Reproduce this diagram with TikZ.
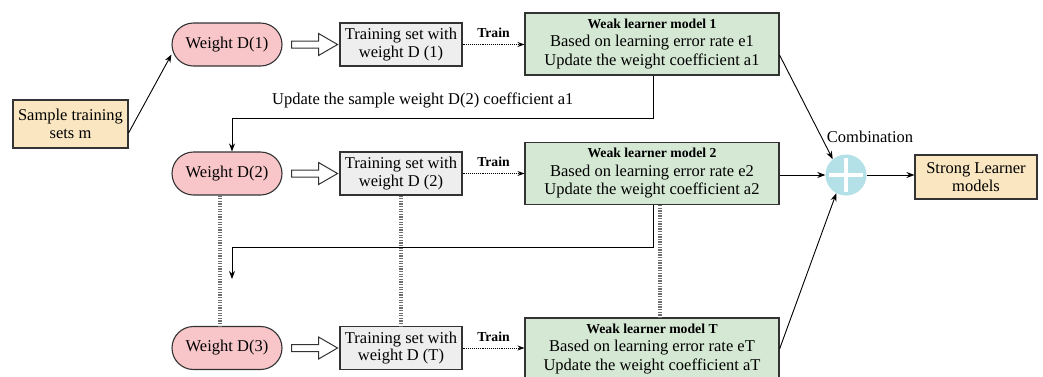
\documentclass[tikz,border=0pt]{standalone}
\usepackage{fontspec}
\setmainfont{Liberation Serif}
\usetikzlibrary{arrows.meta,calc}
\definecolor{pinkc}{HTML}{F8C6C9}
\definecolor{grayc}{HTML}{EEEEEE}
\definecolor{greenc}{HTML}{D5E8D4}
\definecolor{yellowc}{HTML}{FAE7C1}
\definecolor{cyanc}{HTML}{B4E0E8}
\definecolor{dotgray}{HTML}{6E6E6E}
\definecolor{edgec}{HTML}{333333}
\newcommand{\hollowarr}[1]{%
  \draw[draw=edgec, line width=1pt, fill=white] ($(#1.east)+(9,-3.5)$) -- ++(27,0) -- ++(0,-7.5) -- ++(19,11) -- ++(-19,11) -- ++(0,-7.5) -- ++(-27,0) -- cycle;}
\begin{document}
\begin{tikzpicture}[x=1pt,y=-1pt,
  base/.style={draw=edgec, line width=1.1pt, align=center, inner sep=1pt, font=\fontsize{16.5}{17.5}\selectfont},
  pill/.style={base, fill=pinkc, rounded corners=21.5pt, minimum width=110pt, minimum height=43pt},
  tset/.style={base, fill=grayc, minimum width=122pt, minimum height=43pt},
  weak/.style={base, fill=greenc, minimum width=254pt, minimum height=62pt, font=\fontsize{16.5}{18.5}\selectfont},
  ybox/.style={base, fill=yellowc},
  conn/.style={-{Stealth[length=8pt,width=6pt]}, line width=0.9pt},
  trainar/.style={densely dotted, line width=0.9pt, -{Stealth[length=7pt,width=5pt]}},
  dots/.style={draw=dotgray, line width=4pt, dash pattern=on 1.3pt off 1.3pt},
  lbl/.style={font=\fontsize{16.5}{18}\selectfont, inner sep=1pt},
  blbl/.style={font=\bfseries\fontsize{13.7}{15}\selectfont, inner sep=1pt},
]
\useasboundingbox (0,0) rectangle (1043,376);

% nodes
\node[ybox, minimum width=115pt, minimum height=48pt] (sample) at (70.5,124) {Sample training\\sets m};

\node[pill] (w1) at (227,44.5) {Weight D(1)};
\node[tset] (t1) at (401,44.5) {Training set with\\weight D (1)};
\node[weak] (l1) at (652,44) {{\bfseries\fontsize{13.7}{15}\selectfont Weak learner model 1}\\Based on learning error rate e1\\Update the weight coefficient a1};

\node[pill] (w2) at (227,173.5) {Weight D(2)};
\node[tset] (t2) at (401,173.5) {Training set with\\weight D (2)};
\node[weak] (l2) at (652,173.5) {{\bfseries\fontsize{13.7}{15}\selectfont Weak learner model 2}\\Based on learning error rate e2\\Update the weight coefficient a2};

\node[pill] (w3) at (227,348) {Weight D(3)};
\node[tset] (t3) at (401,348) {Training set with\\weight D (T)};
\node[weak] (l3) at (652,349) {{\bfseries\fontsize{13.7}{15}\selectfont Weak learner model T}\\Based on learning error rate eT\\Update the weight coefficient aT};

\node[circle, fill=cyanc, minimum size=41pt, inner sep=0pt] (plus) at (846,175) {};
\draw[white, line width=4pt] ($(plus.center)+(-17,0)$) -- ($(plus.center)+(17,0)$);
\draw[white, line width=4pt] ($(plus.center)+(0,-17)$) -- ($(plus.center)+(0,17)$);

\node[ybox, minimum width=122pt, minimum height=44pt] (strong) at (976,177) {Strong Learner\\models};

\node[lbl] (comb) at (870,137) {Combination};
\node[lbl, anchor=west] (upd) at (271,100) {Update the sample weight D(2) coefficient a1};

% connectors
\draw[conn] ([yshift=-9pt]sample.east) -- ([yshift=-10pt]w1.west);

\hollowarr{w1}
\hollowarr{w2}
\hollowarr{w3}

\draw[trainar] (t1.east) -- node[blbl, above=5pt] (tr1) {Train} (t1.east -| l1.west);
\draw[trainar] (t2.east) -- node[blbl, above=5pt] (tr2) {Train} (t2.east -| l2.west);
\draw[trainar] (t3.east) -- node[blbl, above=5pt] (tr3) {Train} (t3.east -| l3.west);

\coordinate (f1) at (232,118);
\draw[conn] ([xshift=1pt]l1.south) |- (f1) -- (f1 |- w2.north);

\coordinate (f2) at (232,247);
\coordinate (f2e) at (232,279);
\draw[conn] ([xshift=1pt]l2.south) |- (f2) -- (f2e);

\draw[dots] ([xshift=-7pt]w2.south) -- ([xshift=-7pt]w3.north);
\draw[dots] (t2.south) -- (t3.north);
\draw[dots] ([xshift=8pt]l2.south) -- ([xshift=8pt]l3.north);

\draw[conn] ([yshift=-11pt]l1.east) -- (plus.130);
\draw[conn] (l2.east |- plus) -- (plus.west);
\draw[conn] (l3.east) -- (plus.-118);
\draw[conn] (plus.east) -- (plus.east -| strong.west);
\end{tikzpicture}
\end{document}
